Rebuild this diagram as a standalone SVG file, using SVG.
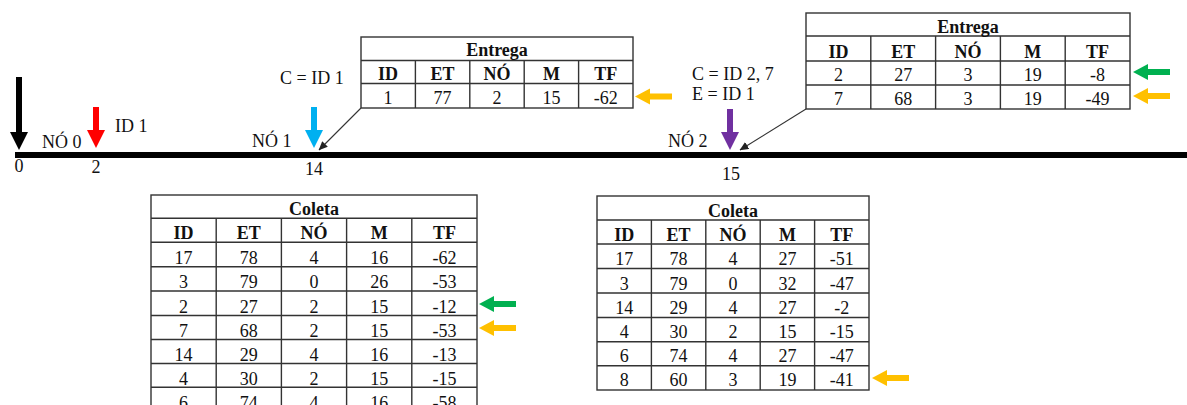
<svg xmlns="http://www.w3.org/2000/svg" width="1187" height="405" viewBox="0 0 1187 405">
  <style>
    text { font-family: "Liberation Serif", "Times New Roman", serif; font-size: 18px; fill: #111; }
    .c { text-anchor: middle; }
    .b { font-weight: bold; }
    .grid { fill: #fff; stroke: #333; stroke-width: 1.4; }
    .ln { stroke: #333; stroke-width: 1.4; fill: none; }
    .lead { stroke: #333; stroke-width: 1.1; fill: none; }
  </style>
  <defs>
    <!-- downward block arrow, tip at origin -->
    <path id="down" d="M-3,-41 H3 V-18 H9 L0,0 L-9,-18 H-3 Z"/>
    <!-- leftward block arrow, tip at origin -->
    <path id="left" d="M0,0 L15,-8 V-3 H37 V3 H15 V8 Z"/>
    <marker id="tip" markerWidth="9" markerHeight="8" refX="8.5" refY="4" orient="auto" markerUnits="userSpaceOnUse">
      <path d="M0,0 L9,4 L0,8 Z" fill="#222"/>
    </marker>
  </defs>

  <!-- time axis -->
  <g id="axis">
    <rect x="15" y="152" width="1172" height="6" fill="#000"/>
    <text class="c" x="19" y="172">0</text>
    <text class="c" x="96" y="173">2</text>
    <text class="c" x="314" y="175">14</text>
    <text class="c" x="731" y="180">15</text>
  </g>

  <!-- start marker -->
  <g id="start">
    <path d="M16,77 H22 V132 H28 L19,150 L10,132 H16 Z" fill="#000"/>
  </g>

  <g id="node0">
    <use href="#down" x="96" y="148" fill="#FF0000"/>
    <text x="42" y="148">NÓ 0</text>
    <text x="115" y="132">ID 1</text>
  </g>

  <g id="node1">
    <use href="#down" x="314" y="148" fill="#00B0F0"/>
    <text x="252" y="147">NÓ 1</text>
    <text x="280" y="84">C = ID 1</text>
  </g>

  <g id="node2">
    <use href="#down" x="730" y="150" fill="#7030A0"/>
    <text x="668" y="147">NÓ 2</text>
    <text x="692" y="80">C = ID 2, 7</text>
    <text x="692" y="100">E = ID 1</text>
  </g>

  <!-- callout leaders -->
  <g id="connectors">
    <line class="lead" x1="361" y1="108" x2="319" y2="150" marker-end="url(#tip)"/>
    <line class="lead" x1="806" y1="109" x2="740" y2="150" marker-end="url(#tip)"/>
  </g>

  <!-- Entrega at node 1 -->
  <g id="entrega1">
    <rect class="grid" x="361" y="37" width="272" height="71"/>
    <path class="ln" d="M361,60.5 H633 M361,83.5 H633 M415.4,60.5 V108 M469.8,60.5 V108 M524.2,60.5 V108 M578.6,60.5 V108"/>
    <text class="c b" x="497" y="56">Entrega</text>
    <text class="c b" x="388" y="80">ID</text>
    <text class="c b" x="442.6" y="80">ET</text>
    <text class="c b" x="497" y="80">NÓ</text>
    <text class="c b" x="551.4" y="80">M</text>
    <text class="c b" x="605.8" y="80">TF</text>
    <text class="c" x="388" y="104">1</text>
    <text class="c" x="442.6" y="104">77</text>
    <text class="c" x="497" y="104">2</text>
    <text class="c" x="551.4" y="104">15</text>
    <text class="c" x="605.8" y="104">-62</text>
    <use href="#left" x="635" y="96.5" fill="#FFC000"/>
  </g>

  <!-- Entrega at node 2 -->
  <g id="entrega2">
    <rect class="grid" x="806" y="13" width="324" height="96"/>
    <path class="ln" d="M806,36 H1130 M806,61 H1130 M806,85 H1130 M870.8,36 V109 M935.6,36 V109 M1000.4,36 V109 M1065.2,36 V109"/>
    <text class="c b" x="968" y="33">Entrega</text>
    <text class="c b" x="838.4" y="58">ID</text>
    <text class="c b" x="903.2" y="58">ET</text>
    <text class="c b" x="968" y="58">NÓ</text>
    <text class="c b" x="1032.8" y="58">M</text>
    <text class="c b" x="1097.6" y="58">TF</text>
    <text class="c" x="838.4" y="81">2</text>
    <text class="c" x="903.2" y="81">27</text>
    <text class="c" x="968" y="81">3</text>
    <text class="c" x="1032.8" y="81">19</text>
    <text class="c" x="1097.6" y="81">-8</text>
    <text class="c" x="838.4" y="105">7</text>
    <text class="c" x="903.2" y="105">68</text>
    <text class="c" x="968" y="105">3</text>
    <text class="c" x="1032.8" y="105">19</text>
    <text class="c" x="1097.6" y="105">-49</text>
    <use href="#left" x="1133" y="72" fill="#00B050"/>
    <use href="#left" x="1133" y="96" fill="#FFC000"/>
  </g>

  <!-- Coleta at node 1 -->
  <g id="coleta1">
    <rect class="grid" x="151" y="195" width="326" height="216"/>
    <path class="ln" d="M151,218.3 H477 M151,242.3 H477 M151,266.7 H477 M151,291 H477 M151,315.5 H477 M151,339.5 H477 M151,363.5 H477 M151,387.2 H477 M216.2,218.3 V411 M281.4,218.3 V411 M346.6,218.3 V411 M411.8,218.3 V411"/>
    <text class="c b" x="314" y="215">Coleta</text>
    <text class="c b" x="183.6" y="238.5">ID</text>
    <text class="c b" x="248.8" y="238.5">ET</text>
    <text class="c b" x="314" y="238.5">NÓ</text>
    <text class="c b" x="379.2" y="238.5">M</text>
    <text class="c b" x="444.4" y="238.5">TF</text>
    <text class="c" x="183.6" y="264">17</text><text class="c" x="248.8" y="264">78</text><text class="c" x="314" y="264">4</text><text class="c" x="379.2" y="264">16</text><text class="c" x="444.4" y="264">-62</text>
    <text class="c" x="183.6" y="288">3</text><text class="c" x="248.8" y="288">79</text><text class="c" x="314" y="288">0</text><text class="c" x="379.2" y="288">26</text><text class="c" x="444.4" y="288">-53</text>
    <text class="c" x="183.6" y="312.5">2</text><text class="c" x="248.8" y="312.5">27</text><text class="c" x="314" y="312.5">2</text><text class="c" x="379.2" y="312.5">15</text><text class="c" x="444.4" y="312.5">-12</text>
    <text class="c" x="183.6" y="336.5">7</text><text class="c" x="248.8" y="336.5">68</text><text class="c" x="314" y="336.5">2</text><text class="c" x="379.2" y="336.5">15</text><text class="c" x="444.4" y="336.5">-53</text>
    <text class="c" x="183.6" y="360.5">14</text><text class="c" x="248.8" y="360.5">29</text><text class="c" x="314" y="360.5">4</text><text class="c" x="379.2" y="360.5">16</text><text class="c" x="444.4" y="360.5">-13</text>
    <text class="c" x="183.6" y="384.5">4</text><text class="c" x="248.8" y="384.5">30</text><text class="c" x="314" y="384.5">2</text><text class="c" x="379.2" y="384.5">15</text><text class="c" x="444.4" y="384.5">-15</text>
    <text class="c" x="183.6" y="408.5">6</text><text class="c" x="248.8" y="408.5">74</text><text class="c" x="314" y="408.5">4</text><text class="c" x="379.2" y="408.5">16</text><text class="c" x="444.4" y="408.5">-58</text>
    <use href="#left" x="479" y="304" fill="#00B050"/>
    <use href="#left" x="479" y="328" fill="#FFC000"/>
  </g>

  <!-- Coleta at node 2 -->
  <g id="coleta2">
    <rect class="grid" x="597" y="196" width="272" height="194"/>
    <path class="ln" d="M597,220 H869 M597,244 H869 M597,268.5 H869 M597,293 H869 M597,317.5 H869 M597,341.7 H869 M597,365.7 H869 M651.4,220 V390 M705.8,220 V390 M760.2,220 V390 M814.6,220 V390"/>
    <text class="c b" x="733" y="216.5">Coleta</text>
    <text class="c b" x="624.2" y="240.5">ID</text>
    <text class="c b" x="678.6" y="240.5">ET</text>
    <text class="c b" x="733" y="240.5">NÓ</text>
    <text class="c b" x="787.4" y="240.5">M</text>
    <text class="c b" x="841.8" y="240.5">TF</text>
    <text class="c" x="624.2" y="265">17</text><text class="c" x="678.6" y="265">78</text><text class="c" x="733" y="265">4</text><text class="c" x="787.4" y="265">27</text><text class="c" x="841.8" y="265">-51</text>
    <text class="c" x="624.2" y="289.5">3</text><text class="c" x="678.6" y="289.5">79</text><text class="c" x="733" y="289.5">0</text><text class="c" x="787.4" y="289.5">32</text><text class="c" x="841.8" y="289.5">-47</text>
    <text class="c" x="624.2" y="314">14</text><text class="c" x="678.6" y="314">29</text><text class="c" x="733" y="314">4</text><text class="c" x="787.4" y="314">27</text><text class="c" x="841.8" y="314">-2</text>
    <text class="c" x="624.2" y="338">4</text><text class="c" x="678.6" y="338">30</text><text class="c" x="733" y="338">2</text><text class="c" x="787.4" y="338">15</text><text class="c" x="841.8" y="338">-15</text>
    <text class="c" x="624.2" y="362">6</text><text class="c" x="678.6" y="362">74</text><text class="c" x="733" y="362">4</text><text class="c" x="787.4" y="362">27</text><text class="c" x="841.8" y="362">-47</text>
    <text class="c" x="624.2" y="385.5">8</text><text class="c" x="678.6" y="385.5">60</text><text class="c" x="733" y="385.5">3</text><text class="c" x="787.4" y="385.5">19</text><text class="c" x="841.8" y="385.5">-41</text>
    <use href="#left" x="872" y="378" fill="#FFC000"/>
  </g>
</svg>
